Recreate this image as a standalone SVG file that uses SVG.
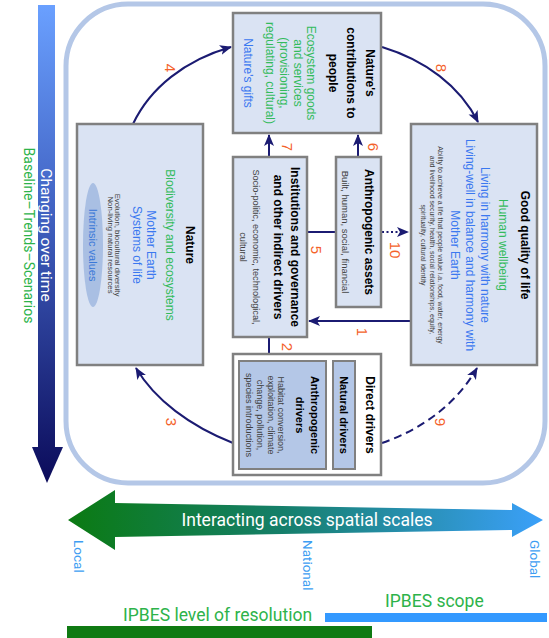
<svg xmlns="http://www.w3.org/2000/svg" width="549" height="638" viewBox="0 0 549 638">
<defs>
<style>
.box{fill:#dae3f3;stroke:#808080;stroke-width:2.5}
.dbox{fill:#b4c7e7;stroke:#808080;stroke-width:2}
text{font-family:"Liberation Sans",Arial,sans-serif;text-anchor:middle}
.ti{font-weight:bold;font-size:12px;fill:#000}
.ti11{font-weight:bold;font-size:11px;fill:#000}
.g{fill:#33bb5c;font-size:12px}
.b{fill:#3a78f0;font-size:12px}
.s{fill:#404040}
.num{fill:#f4622a;font-size:15px}
.rb{font-family:Roboto,"Liberation Sans",sans-serif}
.conn{fill:none;stroke:#1b1b72;stroke-width:2}
</style>
<marker id="ah" markerUnits="userSpaceOnUse" markerWidth="12" markerHeight="12" viewBox="0 0 12 12" refX="11" refY="6" orient="auto">
<path d="M0,1 L12,6 L0,11 L3,6 z" fill="#1b1b72"/>
</marker>
<linearGradient id="gv" x1="0" y1="5" x2="0" y2="483" gradientUnits="userSpaceOnUse">
<stop offset="0" stop-color="#6aa0ff"/>
<stop offset="0.45" stop-color="#3f5fbf"/>
<stop offset="1" stop-color="#0b0b5a"/>
</linearGradient>
<linearGradient id="gh" x1="68" y1="0" x2="543" y2="0" gradientUnits="userSpaceOnUse">
<stop offset="0" stop-color="#0b7a12"/>
<stop offset="0.45" stop-color="#157f6a"/>
<stop offset="1" stop-color="#3ba0fa"/>
</linearGradient>
</defs>
<rect width="549" height="638" fill="#ffffff"/>

<!-- time arrow -->
<g id="time-axis">
<rect x="38" y="5" width="17" height="442" fill="url(#gv)"/>
<polygon points="32,447 63,447 47,483" fill="url(#gv)"/>
<text class="rb" transform="translate(41,235) rotate(90)" style="font-size:15.5px;fill:#ffffff">Changing over time</text>
<text class="rb" transform="translate(23.5,235.5) rotate(90)" style="font-size:14px;fill:#2db34a">Baseline–Trends–Scenarios</text>
</g>

<!-- outer frame -->
<rect x="66" y="4" width="479" height="479" rx="62" ry="62" fill="#ffffff" stroke="#b4c7e7" stroke-width="5"/>

<g id="connectors">
<path class="conn" d="M133,124 C150,88 185,60 231,47" marker-end="url(#ah)"/>
<path class="conn" d="M382,47 C425,60 460,86 478,122" marker-end="url(#ah)"/>
<path class="conn" d="M233,443 C190,426 155,400 136,368" marker-end="url(#ah)"/>
<path class="conn" d="M382,443 C420,430 456,405 477,368" stroke-dasharray="8,5" marker-end="url(#ah)"/>
<path class="conn" d="M269,157 L269,135" marker-end="url(#ah)"/>
<path class="conn" d="M358,157 L358,135" marker-end="url(#ah)"/>
<path class="conn" d="M307,232 L336,232"/>
<path class="conn" d="M382,232 L408,232" stroke-dasharray="2,2.5" marker-end="url(#ah)"/>
<path class="conn" d="M411,321 L309,321" marker-end="url(#ah)"/>
<path class="conn" d="M269,337 L269,367" marker-end="url(#ah)"/>
<text class="num" transform="translate(165,68) rotate(90)">4</text>
<text class="num" transform="translate(436,68) rotate(90)">8</text>
<text class="num" transform="translate(282,147) rotate(90)">7</text>
<text class="num" transform="translate(368,147) rotate(90)">6</text>
<text class="num" transform="translate(311,250) rotate(90)">5</text>
<text class="num" transform="translate(390,250) rotate(90)">10</text>
<text class="num" transform="translate(357,332) rotate(90)">1</text>
<text class="num" transform="translate(282,347) rotate(90)">2</text>
<text class="num" transform="translate(166,422) rotate(90)">3</text>
<text class="num" transform="translate(435,422) rotate(90)">9</text>
</g>

<g id="natures-contributions">
<rect class="box" x="233" y="13" width="148" height="120"/>
<text class="ti" transform="translate(366,73) rotate(90)">Nature's</text>
<text class="ti" transform="translate(347,73) rotate(90)">contributions to</text>
<text class="ti" transform="translate(329,73) rotate(90)">people</text>
<text class="g" transform="translate(307,73) rotate(90)">Ecosystem goods</text>
<text class="g" transform="translate(294,73) rotate(90)">and services</text>
<text class="g" transform="translate(280,73) rotate(90)">(provisioning,</text>
<text class="g" transform="translate(266,73) rotate(90)">regulating, cultural)</text>
<text class="b" transform="translate(244,73) rotate(90)">Nature's gifts</text>
</g>

<g id="nature">
<rect class="box" x="77" y="124" width="126" height="241"/>
<ellipse cx="93" cy="245" rx="10" ry="62" fill="#a9bfe3"/>
<text class="ti" transform="translate(186,245) rotate(90)">Nature</text>
<text class="g" transform="translate(166,245) rotate(90)">Biodiversity and ecosystems</text>
<text class="b" transform="translate(147,245) rotate(90)">Mother Earth</text>
<text class="b" transform="translate(133,245) rotate(90)">Systems of life</text>
<text class="s" transform="translate(115.3,245) rotate(90)" style="font-size:7.8px">Evolution, biocultural diversity</text>
<text class="s" transform="translate(107.8,245) rotate(90)" style="font-size:7.8px">Non-living natural resources</text>
<text transform="translate(89.2,245) rotate(90)" style="font-size:11px;fill:#3a78d8">Intrinsic values</text>
</g>

<g id="good-quality-of-life">
<rect class="box" x="411" y="124" width="126" height="241"/>
<text class="ti" transform="translate(521,245) rotate(90)">Good quality of life</text>
<text class="g" transform="translate(499,245) rotate(90)">Human wellbeing</text>
<text class="b" transform="translate(481,245) rotate(90)">Living in harmony with nature</text>
<text class="b" transform="translate(466,245) rotate(90)">Living-well in balance and harmony with</text>
<text class="b" transform="translate(451,245) rotate(90)">Mother Earth</text>
<text class="s" transform="translate(437.5,245) rotate(90)" style="font-size:7px">Ability to achieve a life that people value i.a. food, water, energy</text>
<text class="s" transform="translate(429.5,245) rotate(90)" style="font-size:7px">and livelihood security, health, social relationships, equity,</text>
<text class="s" transform="translate(420.5,245) rotate(90)" style="font-size:7px">spirituality, cultural identity</text>
</g>

<g id="institutions">
<rect class="box" x="233" y="157" width="74" height="180"/>
<text class="ti" transform="translate(291,247) rotate(90)">Institutions and governance</text>
<text class="ti" transform="translate(274,247) rotate(90)">and other indirect drivers</text>
<text class="s" transform="translate(252.8,247) rotate(90)" style="font-size:9.2px">Socio-politic, economic, technological,</text>
<text class="s" transform="translate(239.8,247) rotate(90)" style="font-size:9.2px">cultural</text>
</g>

<g id="anthropogenic-assets">
<rect class="box" x="336" y="157" width="45" height="150"/>
<text class="ti" transform="translate(365,232) rotate(90)">Anthropogenic assets</text>
<text class="s" transform="translate(341.7,232) rotate(90)" style="font-size:9.5px">Built, human, social, financial</text>
</g>

<g id="direct-drivers">
<rect x="233" y="354" width="148" height="121" fill="#ffffff" stroke="#808080" stroke-width="2.5"/>
<text class="ti" transform="translate(366,415) rotate(90)">Direct drivers</text>
<rect class="dbox" x="333" y="361" width="22" height="108"/>
<text class="ti11" transform="translate(340,415) rotate(90)">Natural drivers</text>
<rect class="dbox" x="239" y="361" width="87" height="108"/>
<text class="ti11" transform="translate(311,415) rotate(90)">Anthropogenic</text>
<text class="ti11" transform="translate(296,415) rotate(90)">drivers</text>
<text class="s" transform="translate(277.8,415) rotate(90)" style="font-size:9px">Habitat conversion,</text>
<text class="s" transform="translate(267.8,415) rotate(90)" style="font-size:9px">exploitation, climate</text>
<text class="s" transform="translate(256.8,415) rotate(90)" style="font-size:9px">change, pollution,</text>
<text class="s" transform="translate(245.8,415) rotate(90)" style="font-size:9px">species introductions</text>
</g>

<g id="spatial-scales">
<polygon points="68,520 115,490 115,503 512,510 512,503 543,520 512,537 512,530 115,537 115,550" fill="url(#gh)"/>
<text class="rb" x="307" y="526" style="font-size:17.5px;fill:#ffffff">Interacting across spatial scales</text>
<text class="rb" transform="translate(74,540) rotate(90)" style="font-size:13.5px;fill:#3d9df2;text-anchor:start">Local</text>
<text class="rb" transform="translate(303,540) rotate(90)" style="font-size:13.5px;fill:#3d9df2;text-anchor:start">National</text>
<text class="rb" transform="translate(530,540) rotate(90)" style="font-size:13.5px;fill:#3d9df2;text-anchor:start">Global</text>
</g>

<g id="ipbes">
<text class="rb" x="385" y="607" style="font-size:17.5px;fill:#2db34a;text-anchor:start">IPBES scope</text>
<rect x="325" y="613" width="222" height="9" fill="#3399ff"/>
<text class="rb" x="123" y="621" style="font-size:17.5px;fill:#2db34a;text-anchor:start">IPBES level of resolution</text>
<rect x="67" y="626" width="305" height="12" fill="#0f7a12"/>
</g>
</svg>
